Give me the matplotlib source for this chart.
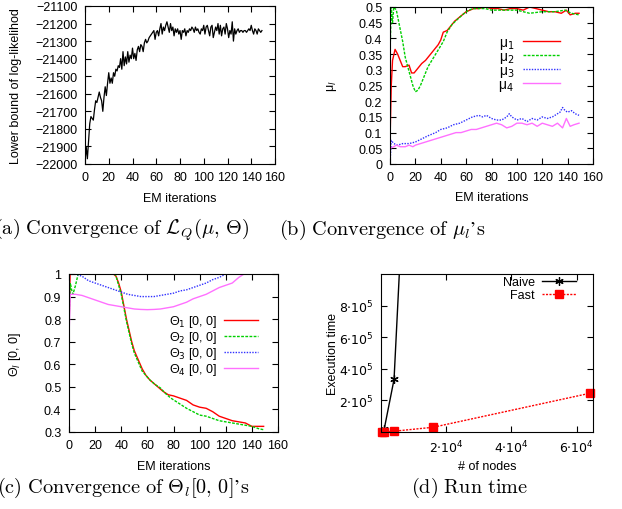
import matplotlib as mpl
mpl.use("Agg")
import matplotlib.pyplot as plt
import numpy as np

mpl.rcParams.update({
    "font.family": "sans-serif",
    "font.sans-serif": ["Liberation Sans", "DejaVu Sans"],
    "font.size": 9,
    "axes.linewidth": 0.8,
    "xtick.direction": "in",
    "ytick.direction": "in",
    "xtick.top": True,
    "ytick.right": True,
    "xtick.major.size": 4,
    "ytick.major.size": 4,
    "xtick.major.pad": 5,
    "ytick.major.pad": 5.5,
    "legend.frameon": False,
})

W, H = 622, 510

# (a) lower bound of log-likelihood per EM iteration
lb_iter = list(range(0, 150))
lb_vals = [
    -21990, -21900, -21970, -21870, -21770, -21730, -21740, -21750, -21690, -21640,
    -21650, -21620, -21590, -21620, -21640, -21700, -21620, -21560, -21610, -21540,
    -21480, -21540, -21510, -21540, -21480, -21500, -21460, -21470, -21440, -21450,
    -21400, -21460, -21360, -21440, -21390, -21430, -21360, -21420, -21380, -21400,
    -21340, -21400, -21370, -21410, -21350, -21330, -21360, -21320, -21330, -21360,
    -21310, -21290, -21310, -21300, -21280, -21270, -21260, -21250, -21240, -21290,
    -21250, -21240, -21270, -21230, -21200, -21260, -21220, -21240, -21210, -21190,
    -21220, -21250, -21200, -21240, -21220, -21270, -21230, -21250, -21230, -21260,
    -21240, -21290, -21240, -21250, -21230, -21270, -21240, -21250, -21230, -21240,
    -21220, -21230, -21250, -21220, -21240, -21230, -21250, -21260, -21230, -21240,
    -21210, -21260, -21220, -21210, -21240, -21270, -21220, -21210, -21280, -21250,
    -21220, -21240, -21200, -21260, -21210, -21270, -21230, -21220, -21260, -21200,
    -21230, -21280, -21240, -21260, -21190, -21300, -21230, -21260, -21240, -21230,
    -21250, -21240, -21240, -21250, -21240, -21240, -21250, -21240, -21230, -21240,
    -21210, -21240, -21260, -21230, -21240, -21260, -21230, -21240, -21250, -21240,
]

# (b) mu_l
mu1_x = [0, 1, 2, 4, 6, 8, 10, 12, 15, 17, 19, 21, 23, 25, 28, 31, 34, 36, 38, 40,
         42, 45, 48, 51, 54, 57, 60, 63, 66, 70, 75, 80, 85, 90, 95, 100, 105, 110,
         115, 120, 125, 130, 135, 139, 142, 146, 149]
mu1 = [0.07, 0.25, 0.33, 0.365, 0.35, 0.33, 0.31, 0.31, 0.315, 0.29, 0.29, 0.30,
       0.31, 0.32, 0.33, 0.345, 0.36, 0.37, 0.38, 0.395, 0.42, 0.425, 0.44, 0.455,
       0.465, 0.475, 0.485, 0.49, 0.495, 0.495, 0.5, 0.495, 0.495, 0.49, 0.495,
       0.495, 0.49, 0.5, 0.495, 0.49, 0.485, 0.485, 0.48, 0.49, 0.475, 0.48, 0.48]
mu2_x = [0, 1, 2, 3, 5, 6, 8, 10, 12, 14, 16, 18, 20, 22, 24, 26, 28, 30, 33, 36,
         39, 42, 45, 49, 53, 57, 62, 66, 70, 75, 80, 90, 100, 105, 110, 120, 130,
         138, 143, 149]
mu2 = [0.35, 0.5, 0.45, 0.5, 0.49, 0.47, 0.43, 0.39, 0.34, 0.31, 0.28, 0.25, 0.23,
       0.235, 0.25, 0.27, 0.29, 0.31, 0.33, 0.35, 0.37, 0.39, 0.42, 0.445, 0.46,
       0.475, 0.49, 0.495, 0.495, 0.495, 0.49, 0.49, 0.49, 0.485, 0.48, 0.485,
       0.485, 0.49, 0.48, 0.475]
mu3_x = [0, 1, 3, 6, 10, 15, 20, 25, 30, 33, 36, 40, 45, 50, 55, 60, 65, 70, 73,
         76, 80, 84, 88, 92, 94, 96, 100, 104, 108, 112, 116, 120, 124, 128, 132,
         134, 136, 138, 140, 143, 146, 149]
mu3 = [0.0, 0.075, 0.065, 0.06, 0.065, 0.065, 0.07, 0.08, 0.09, 0.095, 0.1, 0.11,
       0.115, 0.125, 0.13, 0.14, 0.15, 0.155, 0.15, 0.155, 0.145, 0.14, 0.14, 0.15,
       0.16, 0.15, 0.14, 0.145, 0.135, 0.145, 0.14, 0.15, 0.145, 0.15, 0.16, 0.165,
       0.18, 0.17, 0.165, 0.17, 0.16, 0.155]
mu4_x = [0, 3, 5, 8, 12, 15, 18, 20, 24, 28, 32, 36, 40, 44, 48, 52, 56, 60, 64,
         68, 72, 76, 80, 84, 88, 92, 96, 100, 104, 108, 112, 116, 120, 124, 128,
         132, 136, 139, 142, 145, 149]
mu4 = [0.05, 0.055, 0.06, 0.055, 0.055, 0.06, 0.055, 0.06, 0.065, 0.07, 0.075,
       0.08, 0.085, 0.09, 0.095, 0.1, 0.1, 0.105, 0.11, 0.11, 0.115, 0.12, 0.125,
       0.13, 0.125, 0.115, 0.12, 0.13, 0.13, 0.125, 0.13, 0.12, 0.13, 0.125, 0.12,
       0.13, 0.115, 0.145, 0.12, 0.125, 0.13]

# (c) Theta_l[0, 0]
th1_x = [0, 1, 10, 20, 30, 34, 36, 38, 40, 42, 44, 46, 48, 50, 53, 56, 59, 62, 66,
         68, 72, 76, 80, 85, 90, 95, 100, 105, 110, 115, 120, 125, 130, 135, 140,
         145, 149]
th1 = [0.75, 1.05, 1.05, 1.03, 1.01, 1.0, 0.99, 0.96, 0.92, 0.86, 0.8, 0.75, 0.7,
       0.66, 0.62, 0.58, 0.55, 0.53, 0.51, 0.5, 0.48, 0.465, 0.46, 0.45, 0.44,
       0.42, 0.41, 0.405, 0.39, 0.37, 0.36, 0.35, 0.345, 0.34, 0.325, 0.325, 0.325]
th2_x = [0, 1, 2, 3, 5, 7, 10, 20, 30, 35, 36, 38, 40, 42, 44, 46, 48, 50, 53, 56,
         59, 62, 66, 70, 74, 78, 82, 86, 90, 95, 100, 105, 110, 115, 120, 125, 130,
         135, 140, 145, 149]
th2 = [0.8, 0.96, 0.93, 0.91, 0.95, 1.0, 1.03, 1.05, 1.02, 1.0, 0.99, 0.95, 0.91,
       0.85, 0.79, 0.74, 0.69, 0.65, 0.61, 0.57, 0.55, 0.53, 0.51, 0.495, 0.47,
       0.45, 0.435, 0.42, 0.405, 0.39, 0.375, 0.37, 0.36, 0.35, 0.345, 0.34, 0.335,
       0.33, 0.325, 0.315, 0.31]
th3_x = [0, 5, 10, 15, 20, 25, 30, 35, 40, 45, 50, 55, 60, 65, 70, 75, 80, 85, 90,
         95, 100, 105, 110, 115, 120, 125]
th3 = [1.0, 1.0, 0.99, 0.97, 0.96, 0.95, 0.94, 0.93, 0.92, 0.91, 0.905, 0.9, 0.9,
       0.9, 0.905, 0.91, 0.915, 0.925, 0.93, 0.94, 0.95, 0.96, 0.975, 0.985, 1.0,
       1.02]
th4_x = [0, 1, 5, 10, 15, 20, 25, 30, 35, 40, 45, 50, 55, 60, 65, 70, 75, 80, 85,
         90, 95, 100, 105, 110, 115, 120, 125, 130, 134, 138]
th4 = [0.72, 0.91, 0.91, 0.905, 0.895, 0.885, 0.875, 0.865, 0.86, 0.855, 0.85,
       0.845, 0.843, 0.842, 0.843, 0.845, 0.85, 0.855, 0.865, 0.875, 0.89, 0.9,
       0.91, 0.925, 0.94, 0.95, 0.96, 0.985, 1.0, 1.02]

# (d) run time
naive_nodes = [250, 1000, 4000, 16000]
naive_time = [1000, 20000, 333000, 5300000]
fast_nodes = [250, 1000, 4000, 16000, 64000]
fast_time = [500, 1200, 5000, 30000, 245000]

RED = "#ff0000"
GREEN = "#00d000"
BLUE = "#3030ff"
MAGENTA = "#ff70ff"


def px_axes(left, top, right, bottom):
    return [left / W, 1 - bottom / H, (right - left) / W, (bottom - top) / H]


def legend_at(ax, right, top, **kw):
    opts = dict(loc="upper right", bbox_to_anchor=(right / W, 1 - top / H),
                bbox_transform=fig.transFigure, markerfirst=False,
                handlelength=2.7, handletextpad=0.6, borderpad=0,
                borderaxespad=0)
    opts.update(kw)
    return ax.legend(**opts)


fig = plt.figure(figsize=(W / 100, H / 100), dpi=100)

# ---- (a)
ax = fig.add_axes(px_axes(85, 7, 275, 165))
ax.plot(lb_iter, lb_vals, color="black", lw=0.9)
ax.set_xlim(0, 160)
ax.set_ylim(-22000, -21100)
ax.set_xticks(range(0, 161, 20))
ax.set_yticks(range(-22000, -21099, 100))
ax.set_xlabel("EM iterations")
ax.set_ylabel("Lower bound of log-likelihod")
ax.xaxis.set_label_coords(0.5, -0.175)
ax.yaxis.set_label_coords(-0.33, 0.5)

# ---- (b)
ax = fig.add_axes(px_axes(390, 8, 593, 165))
ax.plot(mu1_x, mu1, color=RED, lw=1.0, label="μ$_1$")
ax.plot(mu2_x, mu2, color=GREEN, lw=1.0, ls=(0, (2, 1)), label="μ$_2$")
ax.plot(mu3_x, mu3, color=BLUE, lw=1.0, ls=(0, (1, 1)), label="μ$_3$")
ax.plot(mu4_x, mu4, color=MAGENTA, lw=1.0, label="μ$_4$")
ax.set_xlim(0, 160)
ax.set_ylim(0, 0.5)
ax.set_xticks(range(0, 161, 20))
yt = np.arange(0, 0.501, 0.05)
ax.set_yticks(yt)
ax.set_yticklabels([f"{v:g}" for v in np.round(yt, 2)])
ax.set_xlabel("EM iterations")
ax.set_ylabel("μ$_l$")
ax.xaxis.set_label_coords(0.5, -0.175)
ax.yaxis.set_label_coords(-0.25, 0.5)
legend_at(ax, 560, 36, labelspacing=-0.15, fontsize=10)

# ---- (c)
ax = fig.add_axes(px_axes(69, 275, 278, 433))
ax.plot(th1_x, th1, color=RED, lw=1.0, label="Θ$_1$ [0, 0]")
ax.plot(th2_x, th2, color=GREEN, lw=1.0, ls=(0, (2, 1)), label="Θ$_2$ [0, 0]")
ax.plot(th3_x, th3, color=BLUE, lw=1.0, ls=(0, (1, 1)), label="Θ$_3$ [0, 0]")
ax.plot(th4_x, th4, color=MAGENTA, lw=1.0, label="Θ$_4$ [0, 0]")
ax.set_xlim(0, 160)
ax.set_ylim(0.3, 1)
ax.set_xticks(range(0, 161, 20))
yt = np.arange(0.3, 1.001, 0.1)
ax.set_yticks(yt)
ax.set_yticklabels([f"{v:g}" for v in np.round(yt, 1)])
ax.set_xlabel("EM iterations")
ax.set_ylabel("Θ$_l$ [0, 0]")
ax.xaxis.set_label_coords(0.5, -0.175)
ax.yaxis.set_label_coords(-0.22, 0.5)
legend_at(ax, 258, 314, labelspacing=0.0)

# ---- (d)
ax = fig.add_axes(px_axes(381, 275, 593, 433))
ax.plot(naive_nodes, naive_time, color="black", lw=1.0, marker=(6, 2, 0),
        ms=6, mew=0.9, label="Naive")
ax.plot(fast_nodes, fast_time, color=RED, lw=1.0, ls=(0, (1.5, 1)), marker="s",
        ms=6, label="Fast", clip_on=False)
ax.set_xlim(0, 65000)
ax.set_ylim(0, 1e6)
ax.set_xticks([2e4, 4e4, 6e4])
ax.set_xticklabels([r"$2{\cdot}10^4$", r"$4{\cdot}10^4$", r"$6{\cdot}10^4$"])
ax.set_yticks([2e5, 4e5, 6e5, 8e5])
ax.set_yticklabels([r"$2{\cdot}10^5$", r"$4{\cdot}10^5$", r"$6{\cdot}10^5$", r"$8{\cdot}10^5$"])
ax.set_xlabel("# of nodes")
ax.set_ylabel("Execution time")
ax.xaxis.set_label_coords(0.5, -0.175)
ax.yaxis.set_label_coords(-0.2, 0.5)
legend_at(ax, 576, 277, labelspacing=0.1)

# ---- captions
cap = dict(fontsize=14.6, math_fontfamily="cm", va="center")
fig.text(-6 / W, 1 - 230 / H,
         r"$\mathrm{(a)\ Convergence\ of\ }\mathcal{L}_Q(\mu,\,\Theta)$", ha="left", **cap)
fig.text(382 / W, 1 - 230 / H,
         r"$\mathrm{(b)\ Convergence\ of\ }\mu_l\mathrm{’s}$", ha="center", **cap)
fig.text(-3 / W, 1 - 488 / H,
         r"$\mathrm{(c)\ Convergence\ of\ }\Theta_l[0,\,0]\mathrm{’s}$", ha="left", **cap)
fig.text(470 / W, 1 - 488 / H, r"$\mathrm{(d)\ Run\ time}$", ha="center", **cap)

fig.savefig("out.png", dpi=100)
